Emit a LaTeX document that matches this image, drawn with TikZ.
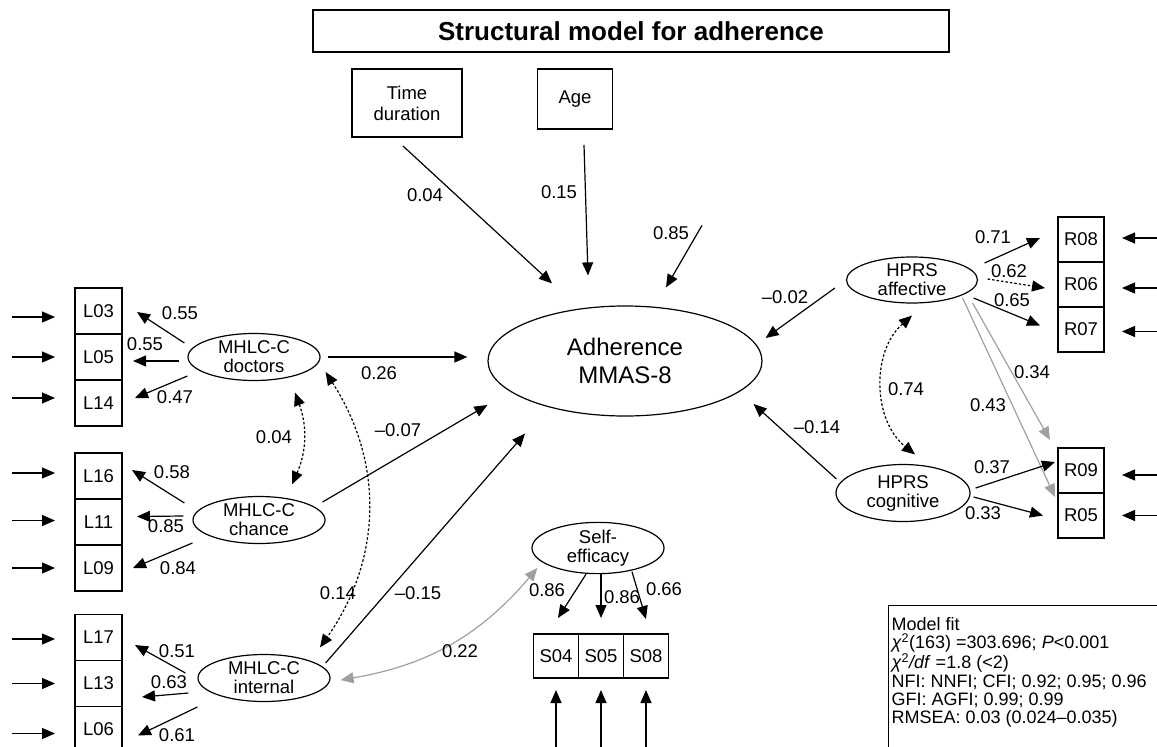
\documentclass[tikz,border=0pt]{standalone}
\usepackage{fontspec}
\setmainfont{Liberation Sans}
\usetikzlibrary{arrows.meta,shapes.geometric,positioning}
\definecolor{pathgray}{RGB}{160,160,160}

\begin{document}
\begin{tikzpicture}[
    x=1pt,y=-1pt,
    >={Triangle[length=13pt,width=11pt]},
    line width=1.2pt,
    node distance=0pt,
    every node/.style={font=\fontsize{18.5}{20}\selectfont},
    obs/.style={rectangle,draw,line width=1.2pt,outer sep=0pt,inner sep=0pt},
    ibox/.style={obs,minimum width=47pt,minimum height=46pt},
    rbox/.style={obs,minimum width=46pt,minimum height=45pt},
    sbox/.style={obs,minimum width=45pt,minimum height=44pt},
    lat/.style={ellipse,draw,line width=1.2pt,inner sep=0pt,align=center,
        minimum width=132pt,minimum height=47pt,font=\fontsize{18.5}{19}\selectfont},
    lbl/.style={inner sep=0pt},
    dots/.style={<->,dash pattern=on 2.5pt off 2pt},
    gry/.style={<->,draw=pathgray},
    grya/.style={->,draw=pathgray},
    fitbox/.style={draw,line width=1.2pt,anchor=north west,inner xsep=3pt,inner ysep=12pt,
        font=\fontsize{18}{18.3}\selectfont}
  ]
    \useasboundingbox (0,0) rectangle (1157,747);

    \node[obs,minimum width=636pt,minimum height=42pt,font=\bfseries\fontsize{26}{28}\selectfont]
        (title) at (631,31) {Structural model for adherence};
    \node[obs,minimum width=110pt,minimum height=68pt,align=center,font=\fontsize{18.5}{21}\selectfont]
        (tdur) at (407,103) {Time\\duration};
    \node[obs,minimum width=75pt,minimum height=60pt] (age) at (575,99) {Age};

    \node[lat,minimum width=274pt,minimum height=110pt,font=\fontsize{24}{28}\selectfont]
        (adh) at (625,361) {Adherence\\MMAS-8};
    \node[lat] (doc)  at (254,357) {MHLC-C\\doctors};
    \node[lat] (cha)  at (259,520) {MHLC-C\\chance};
    \node[lat] (intl) at (264,678) {MHLC-C\\internal};
    \node[lat] (self) at (598,548) {Self-\\efficacy};
    \node[lat,minimum width=131pt,minimum height=46pt] (haff) at (912,280) {HPRS\\affective};
    \node[lat,minimum width=134pt,minimum height=57pt] (hcog) at (903,493) {HPRS\\cognitive};

    \foreach \a/\b/\c/\y in {L03/L05/L14/311,L16/L11/L09/476,L17/L13/L06/637.5} {
        \node[ibox] (\a) at (98.5,\y) {\a};
        \node[ibox,below=of \a] (\b) {\b};
        \node[ibox,below=of \b] (\c) {\c};
    }
    \node[rbox] (R08) at (1081,239.5) {R08};
    \node[rbox,below=of R08] (R06) {R06};
    \node[rbox,below=of R06] (R07) {R07};
    \node[rbox] (R09) at (1081,470.5) {R09};
    \node[rbox,below=of R09] (R05) {R05};
    \node[sbox] (S04) at (556,656) {S04};
    \node[sbox,right=of S04] (S05) {S05};
    \node[sbox,right=of S05] (S08) {S08};

    % error terms
    \foreach \n/\d in {L03/-6,L05/0,L14/5,L16/3,L11/1.5,L09/0,L17/-1.5,L13/0,L06/-4} {
        \coordinate (e\n) at ([xshift=-63pt,yshift=\d pt]\n.west);
        \draw[->] (e\n) -- ([xshift=-20pt,yshift=\d pt]\n.west);
    }
    \foreach \n/\d in {R08/1.5,R06/-3.5,R07/-2,R09/-4.5,R05/0} {
        \coordinate (e\n) at ([xshift=56pt,yshift=\d pt]\n.east);
        \draw[->] (e\n) -- ([xshift=18pt,yshift=\d pt]\n.east);
    }
    \foreach \n in {S04,S05,S08} {
        \coordinate (e\n) at ([yshift=-82pt]\n.south);
        \draw[->] (e\n) -- ([yshift=-12pt]\n.south);
    }
    \coordinate (eadh) at ([xshift=77pt,yshift=80pt]adh.north);
    \draw[->] (eadh) -- ([xshift=41pt,yshift=18pt]adh.north);

    \draw[->] ([xshift=-4pt,yshift=-9pt]tdur.south) -- ([xshift=-73pt,yshift=22pt]adh.north);
    \draw[->] ([xshift=9pt,yshift=-16pt]age.south) -- ([xshift=-37pt,yshift=30pt]adh.north);

    \draw[->] ([xshift=-3pt,yshift=14pt]doc.west) -- ([xshift=15pt,yshift=-1pt]L03.east);
    \draw[->] ([xshift=-8pt,yshift=-4pt]doc.west) -- ([xshift=11pt,yshift=-4pt]L05.east);
    \draw[->] ([yshift=-19pt]doc.west) -- ([xshift=13pt,yshift=5pt]L14.east);
    \draw[->] ([xshift=7pt]doc.east) -- ([xshift=-20pt,yshift=4pt]adh.west);

    \draw[->] ([xshift=-8pt,yshift=17pt]cha.west) -- ([xshift=10pt,yshift=6pt]L16.east);
    \draw[->] ([xshift=-9pt,yshift=4pt]cha.west) -- ([xshift=15pt,yshift=5.5pt]L11.east);
    \draw[->] ([yshift=-23pt]cha.west) -- ([xshift=11pt]L09.east);
    \draw[->] ([xshift=-3pt,yshift=18pt]cha.east) -- ([yshift=-44pt]adh.west);

    \draw[->] ([xshift=-12pt,yshift=5pt]intl.west) -- ([xshift=13pt,yshift=-7.5pt]L17.east);
    \draw[->] ([xshift=-9pt,yshift=-15pt]intl.west) -- ([xshift=20pt,yshift=-13.5pt]L13.east);
    \draw[->] ([yshift=-29pt]intl.west) -- ([xshift=16pt,yshift=-6pt]L06.east);
    \draw[->] ([xshift=-5pt,yshift=15pt]intl.east) -- ([xshift=-100pt,yshift=-17pt]adh.south);

    \draw[dots] ([xshift=41pt,yshift=-11.5pt]doc.south) to[bend left=22] ([xshift=33pt,yshift=11.5pt]cha.north);
    \draw[dots] ([xshift=5pt,yshift=-15pt]doc.east) to[bend left=34] ([xshift=56pt,yshift=6.5pt]intl.north);
    \draw[dots] ([yshift=-12pt]haff.south) to[bend right=50] ([xshift=12pt,yshift=9.5pt]hcog.north);
    \draw[gry] ([xshift=10pt,yshift=-2pt]intl.east) to[bend right=20] ([xshift=6pt,yshift=-20pt]self.west);

    \draw[->] ([xshift=-12pt]self.south) -- ([xshift=2pt,yshift=16pt]S04.north);
    \draw[->] ([xshift=3pt]self.south) -- ([yshift=16pt]S05.north);
    \draw[->] ([xshift=34pt,yshift=2.5pt]self.south) -- ([yshift=15pt]S08.north);

    \draw[->] ([xshift=-11pt,yshift=-8pt]haff.west) -- ([xshift=3pt,yshift=23pt]adh.east);
    \draw[->] ([xshift=1pt,yshift=14pt]hcog.west) -- ([xshift=-9pt,yshift=-43pt]adh.east);
    \draw[->] ([xshift=6.5pt,yshift=17pt]haff.east) -- ([xshift=-18pt,yshift=1.5pt]R08.west);
    \draw[->,dash pattern=on 2.5pt off 2pt] ([xshift=9.5pt,yshift=1pt]haff.east) -- ([xshift=-13pt,yshift=-3.5pt]R06.west);
    \draw[->] ([xshift=-4.5pt,yshift=-18pt]haff.east) -- ([xshift=-18pt,yshift=4pt]R07.west);
    \draw[grya] ([xshift=-5.5pt,yshift=-23pt]haff.east) -- ([xshift=-8pt,yshift=8pt]R09.north west);
    \draw[grya] ([xshift=-15.5pt,yshift=-18pt]haff.east) -- ([xshift=-3pt,yshift=-4pt]R09.south west);
    \draw[->] ([xshift=5pt,yshift=5pt]hcog.east) -- ([xshift=-3pt,yshift=8.5pt]R09.west);
    \draw[->] ([xshift=3pt,yshift=-4pt]hcog.east) -- ([xshift=-15pt]R05.west);

    % path coefficients
    \foreach \t/\x/\y [count=\i] in {0.04/425/195,0.15/559/192,0.85/671/233,
        0.55/180/313,0.55/145/344,0.47/175/397,0.26/379/373,--0.07/398/430,
        0.04/274/437,0.58/172/472,0.85/166/526,0.84/178/568,0.14/338/593,
        --0.15/418/593,0.51/177/651,0.63/169/682,0.61/177/735,0.22/460/651,
        0.86/547/590,0.86/622/597,0.66/664/589,--0.02/785/297,--0.14/817/427,
        0.74/906/389,0.71/993/237,0.62/1009/271,0.65/1012/300,0.34/1032/372,
        0.43/988/405,0.37/992/467,0.33/983/513}
        \node[lbl] (w\i) at (\x,\y) {\t};

    \node[fitbox] (fit) at (888,605) {\parbox[t][170pt][t]{300pt}{Model fit\\
        \textit{χ}\textsuperscript{2}(163) =303.696; \textit{P}<0.001\\
        \textit{χ}\textsuperscript{2}\textit{/df} =1.8 (<2)\\
        NFI: NNFI; CFI; 0.92; 0.95; 0.96\\
        GFI: AGFI; 0.99; 0.99\\
        RMSEA: 0.03 (0.024--0.035)}};
\end{tikzpicture}
\end{document}
